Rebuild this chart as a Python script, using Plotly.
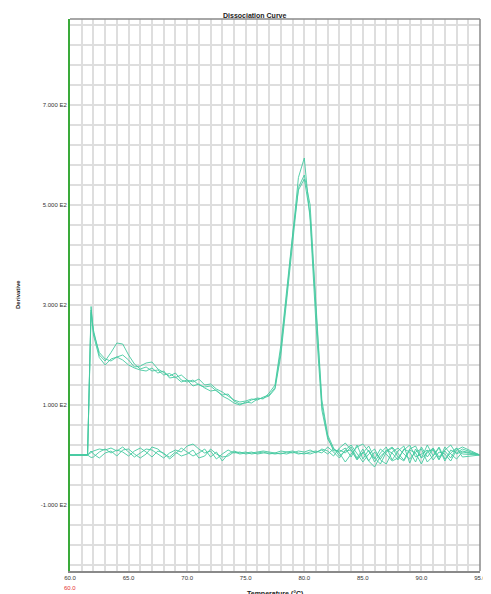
import plotly.graph_objects as go

# ---------------- data ----------------
temps = [60.0, 61.5, 61.8,
         62.0, 62.5, 63.0, 63.5, 64.0, 64.5, 65.0, 65.5, 66.0, 66.5,
         67.0, 67.5, 68.0, 68.5, 69.0, 69.5, 70.0, 70.5, 71.0, 71.5,
         72.0, 72.5, 73.0, 73.5, 74.0, 74.5, 75.0, 75.5, 76.0, 76.5,
         77.0, 77.5, 78.0, 78.5, 79.0, 79.5, 80.0, 80.5, 81.0, 81.5,
         82.0, 82.5, 83.0, 83.5, 84.0, 84.5, 85.0, 85.5, 86.0, 86.5,
         87.0, 87.5, 88.0, 88.5, 89.0, 89.5, 90.0, 90.5, 91.0, 91.5,
         92.0, 92.5, 93.0, 93.5,
         95.0]

high_1 = [0, 0, 290,
          250, 200, 188, 205, 224, 222, 200, 182, 172, 176,
          168, 170, 160, 163, 155, 160, 150, 146, 152, 140,
          142, 132, 126, 118, 110, 106, 108, 112, 110, 116,
          120, 135, 210, 320, 440, 555, 594, 470, 260, 90,
          32, 12, 6, 14, -4, 20, -8, 10, -14, 4,
          16, -10, 8, 18, -16, 12, -6, 20, -2, 14,
          -12, 10, 4, 12,
          0]
high_2 = [0, 0, 297,
          240, 195, 180, 192, 196, 200, 190, 176, 178, 184,
          186, 172, 165, 158, 164, 150, 146, 150, 140, 136,
          138, 128, 120, 122, 108, 102, 104, 110, 114, 112,
          124, 140, 220, 330, 440, 530, 552, 480, 280, 100,
          36, 8, 10, 4, 16, -6, 12, -12, 6, -8,
          10, 4, -10, 12, 6, -14, 16, -4, 12, -8,
          8, -6, 14, 2,
          0]
high_3 = [0, 0, 285,
          245, 205, 192, 188, 196, 190, 180, 174, 170, 168,
          174, 164, 168, 154, 156, 146, 150, 138, 142, 134,
          128, 130, 118, 112, 104, 100, 106, 104, 112, 114,
          118, 132, 200, 310, 430, 535, 560, 500, 300, 110,
          40, 14, -2, 8, 10, -10, 4, 18, -6, -18,
          6, 14, -4, -12, 10, 4, -18, 8, 10, -10,
          16, 2, -8, 6,
          0]
low_1 = [0, 0, 5,
         8, 12, 10, 14, 8, 16, 6, -4, 4, 12,
         10, 2, -6, 4, 10, 6, 18, 22, 12, 4,
         8, -8, 2, 10, 4, 6, 2, 4, 6, 8,
         6, 4, 8, 6, 4, 8, 6, 10, 4, 12,
         8, -2, 14, 24, 10, -8, 6, -12, -24, -2,
         8, 16, 4, -10, 12, 18, -6, 4, 14, -4,
         10, 20, 2, 8,
         0]
low_2 = [0, 0, -5,
         -4, 6, 12, 4, 10, 6, -2, 8, 14, 6,
         -4, 8, 4, -8, 2, 14, 6, -2, 4, 12,
         -4, 6, -12, 2, 8, 4, 6, 2, 4, 6,
         2, 4, 2, 6, 8, 4, 2, 6, 8, 4,
         16, 6, -6, 10, 20, 4, -14, 2, 12, -10,
         -18, 6, 14, 2, -8, 6, 12, -14, -2, 16,
         -8, 4, 14, -4,
         0]
low_3 = [0, 0, 8,
         2, -6, 4, 8, -2, 10, 12, 2, -6, 2,
         16, 12, 2, -4, 6, -2, 2, 10, -6, -2,
         12, 2, -4, -2, 6, 2, 4, 6, 2, 4,
         4, 2, 4, 2, 6, 2, 4, 2, 6, 10,
         2, 12, 4, -14, 2, 16, 22, 6, -8, 12,
         2, -12, -6, 10, 20, -4, 2, 10, -10, 6,
         2, -12, 10, 16,
         0]

series = [high_1, high_2, high_3, low_1, low_2, low_3]

x_tick_vals = [60, 65, 70, 75, 80, 85, 90, 95]
x_tick_text = ["60.0", "65.0", "70.0", "75.0", "80.0", "85.0", "90.0", "95.0"]
y_tick_vals = [-100, 100, 300, 500, 700]
y_tick_text = ["-1.000 E2", "1.000 E2", "3.000 E2", "5.000 E2", "7.000 E2"]

# ---------------- figure ----------------
LINE = "#45c9a0"
GRID = "#dedede"
FONT = "Liberation Sans, Arial, sans-serif"

fig = go.Figure()
for s in series:
    fig.add_trace(go.Scatter(x=temps, y=s, mode="lines",
                             line=dict(color=LINE, width=0.9),
                             showlegend=False, hoverinfo="skip"))

# the page body adds an 8px offset, so the figure is sized to fit the window
fig.update_layout(
    width=483, height=586,
    margin=dict(l=62, r=5, t=11, b=23),
    paper_bgcolor="white", plot_bgcolor="white",
    font=dict(family=FONT, size=6, color="#222"),
    showlegend=False,
)

fig.update_xaxes(
    range=[60, 95], tickvals=x_tick_vals, ticktext=x_tick_text,
    showgrid=True, gridcolor=GRID, gridwidth=1.5,
    minor=dict(dtick=1, tick0=60, showgrid=True, gridcolor=GRID, gridwidth=1.5),
    showline=True, linecolor="#8a8a8a", linewidth=2, mirror=False,
    ticks="", zeroline=False, tickfont=dict(size=6, color="#333"),
    ticklabeloverflow="allow",
)
fig.update_yaxes(
    range=[-232, 872], tickvals=y_tick_vals, ticktext=y_tick_text,
    showgrid=True, gridcolor=GRID, gridwidth=1.5,
    minor=dict(dtick=40, tick0=-100, showgrid=True, gridcolor=GRID, gridwidth=1.5),
    showline=True, linecolor="#3aaa3a", linewidth=2, mirror=False,
    ticks="", zeroline=False, tickfont=dict(size=6, color="#333"),
)

# top and right borders
fig.add_shape(type="line", xref="paper", yref="paper", x0=0, x1=1, y0=1, y1=1,
              line=dict(color="#8a8a8a", width=1.5))
fig.add_shape(type="line", xref="paper", yref="paper", x0=1, x1=1, y0=0, y1=1,
              line=dict(color="#8a8a8a", width=1.5))

# title
fig.add_annotation(text="<b>Dissociation Curve</b>", xref="paper", yref="paper",
                   x=0.452, y=1.0, yanchor="bottom", xanchor="center", showarrow=False,
                   font=dict(size=7, color="#222"), yshift=-2)
# y-axis title
fig.add_annotation(text="<b>Derivative</b>", xref="paper", yref="paper",
                   x=0, y=0.5, textangle=-90, showarrow=False,
                   xanchor="center", yanchor="middle",
                   font=dict(size=6, color="#222"), xshift=-52)
# red marker under first tick label
fig.add_annotation(text="60.0", xref="x", yref="paper", x=60, y=0,
                   yanchor="top", yshift=-12, showarrow=False,
                   font=dict(size=6, color="#e53030"))
# x-axis title (cut by the bottom edge, as in the original)
fig.add_annotation(text="<b>Temperature (°C)</b>", xref="paper", yref="paper",
                   x=0.5, y=0, yanchor="top", yshift=-17, showarrow=False,
                   font=dict(size=7, color="#222"))

fig.write_html("out.html")
